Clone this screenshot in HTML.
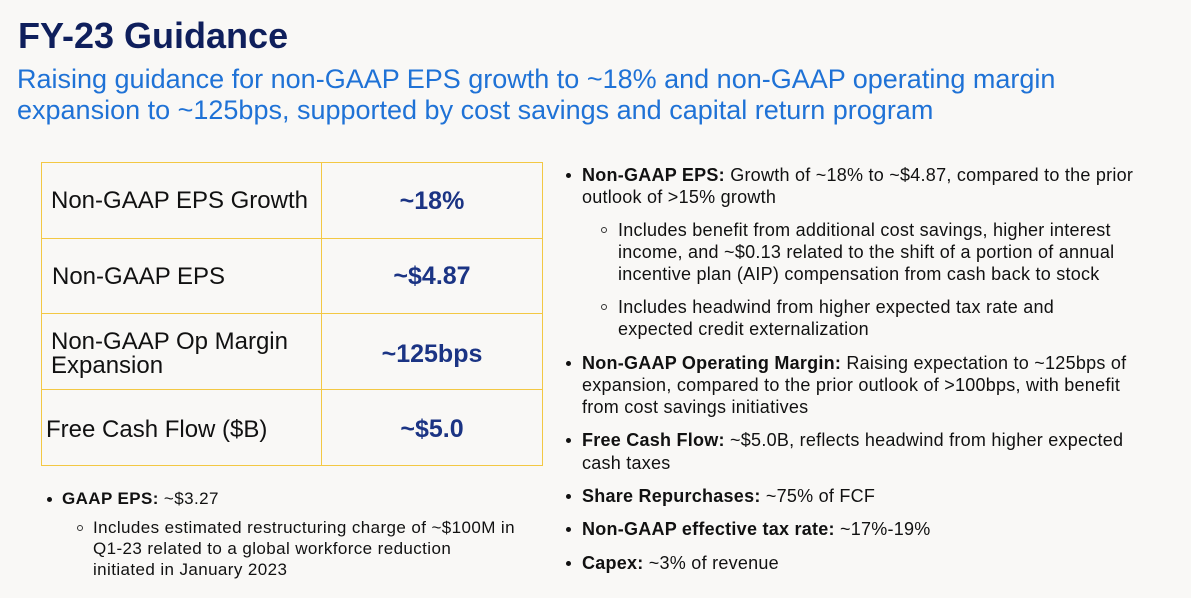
<!DOCTYPE html>
<html><head><meta charset="utf-8"><style>
body{margin:0;width:1191px;height:598px;background:#f9f8f6;font-family:"Liberation Sans",sans-serif;position:relative;overflow:hidden}
.a{position:absolute;white-space:nowrap}
.t{font-size:18px;letter-spacing:0.25px;line-height:22px;color:#111}
.l{font-size:17px;letter-spacing:0.4px;line-height:21px;color:#111}
b{font-weight:bold}
.cell{position:absolute;display:flex;align-items:center;font-size:24px;color:#111}
.val{justify-content:center;font-weight:bold;color:#1b3484;font-size:25px}
.dot{position:absolute;width:5px;height:5px;border-radius:50%;background:#111}
.ring{position:absolute;width:4px;height:4px;border-radius:50%;border:1px solid #333}
</style></head><body>
<div class="a" style="left:18px;top:15px;font-size:36px;font-weight:bold;color:#0f1f5c">FY-23 Guidance</div>
<div class="a" style="left:17px;top:64px;font-size:27px;line-height:31px;color:#1f72d6">Raising guidance for non-GAAP EPS growth to ~18% and non-GAAP operating margin<br>expansion to ~125bps, supported by cost savings and capital return program</div>

<div style="position:absolute;left:41px;top:162px;width:500px;height:302px;border:1px solid #f3c844">
<div style="position:absolute;left:279px;top:0;width:1px;height:302px;background:#f3c844"></div>
<div style="position:absolute;left:0;top:75px;width:500px;height:1px;background:#f3c844"></div>
<div style="position:absolute;left:0;top:150px;width:500px;height:1px;background:#f3c844"></div>
<div style="position:absolute;left:0;top:226px;width:500px;height:1px;background:#f3c844"></div>
<div class="cell" style="left:9px;top:0;height:76px">Non-GAAP EPS Growth</div>
<div class="cell val" style="left:280px;width:220px;top:0;height:76px">~18%</div>
<div class="cell" style="left:10px;top:76px;height:75px">Non-GAAP EPS</div>
<div class="cell val" style="left:280px;width:220px;top:76px;height:75px">~$4.87</div>
<div class="cell" style="left:9px;top:153px;height:76px;line-height:24px">Non-GAAP Op Margin<br>Expansion</div>
<div class="cell val" style="left:280px;width:220px;top:153px;height:76px">~125bps</div>
<div class="cell" style="left:4px;top:229px;height:75px">Free Cash Flow ($B)</div>
<div class="cell val" style="left:280px;width:220px;top:229px;height:75px">~$5.0</div>
</div>

<div>
<div class="dot" style="left:47px;top:497px"></div>
<div class="a l" style="left:62px;top:488px"><b>GAAP EPS:</b> ~$3.27</div>
<div class="ring" style="left:77px;top:525px"></div>
<div class="a l" style="left:93px;top:517px">Includes estimated restructuring charge of ~$100M in<br>Q1-23 related to a global workforce reduction<br>initiated in January 2023</div>
</div>

<div>
<div class="dot" style="left:566px;top:173px"></div>
<div class="a t" style="left:582px;top:164px"><b>Non-GAAP EPS:</b> Growth of ~18% to ~$4.87, compared to the prior<br>outlook of &gt;15% growth</div>
<div class="ring" style="left:601px;top:227px"></div>
<div class="a t" style="left:618px;top:219px">Includes benefit from additional cost savings, higher interest<br>income, and ~$0.13 related to the shift of a portion of annual<br>incentive plan (AIP) compensation from cash back to stock</div>
<div class="ring" style="left:601px;top:304px"></div>
<div class="a t" style="left:618px;top:296px">Includes headwind from higher expected tax rate and<br>expected credit externalization</div>
<div class="dot" style="left:566px;top:361px"></div>
<div class="a t" style="left:582px;top:352px"><b>Non-GAAP Operating Margin:</b> Raising expectation to ~125bps of<br>expansion, compared to the prior outlook of &gt;100bps, with benefit<br>from cost savings initiatives</div>
<div class="dot" style="left:566px;top:438px"></div>
<div class="a t" style="left:582px;top:429px;line-height:23px"><b>Free Cash Flow:</b> ~$5.0B, reflects headwind from higher expected<br>cash taxes</div>
<div class="dot" style="left:566px;top:494px"></div>
<div class="a t" style="left:582px;top:485px"><b>Share Repurchases:</b> ~75% of FCF</div>
<div class="dot" style="left:566px;top:527px"></div>
<div class="a t" style="left:582px;top:518px"><b>Non-GAAP effective tax rate:</b> ~17%-19%</div>
<div class="dot" style="left:566px;top:561px"></div>
<div class="a t" style="left:582px;top:552px"><b>Capex:</b> ~3% of revenue</div>
</div>
</body></html>
